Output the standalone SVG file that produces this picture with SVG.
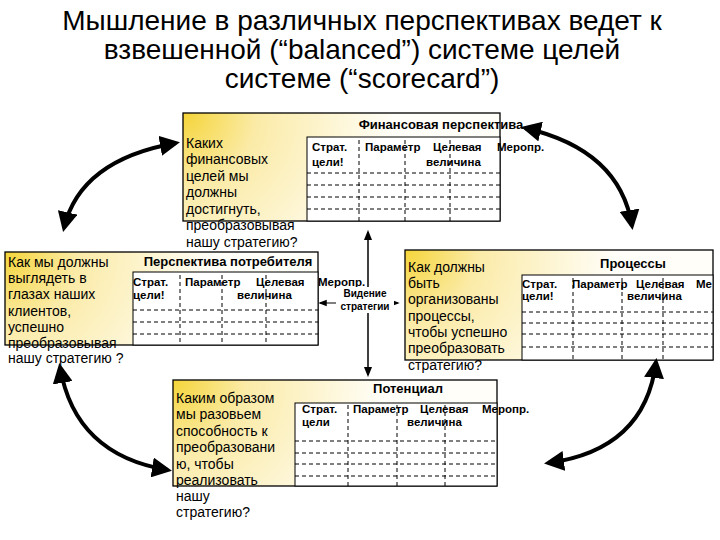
<svg xmlns="http://www.w3.org/2000/svg" width="720" height="540" viewBox="0 0 720 540">
<defs>
<marker id="ah" viewBox="0 0 10 10" refX="8" refY="5" markerWidth="5" markerHeight="5" orient="auto-start-reverse"><path d="M0,0 L10,5 L0,10 z" fill="#000"/></marker>
<marker id="as" viewBox="0 0 10 10" refX="8" refY="5" markerWidth="7" markerHeight="7" orient="auto-start-reverse"><path d="M0,1 L10,5 L0,9 z" fill="#000"/></marker>
<radialGradient id="gf" cx="184" cy="114" r="210" gradientUnits="userSpaceOnUse"><stop offset="0" stop-color="#f5d53a"/><stop offset="0.35" stop-color="#fbeba8"/><stop offset="1" stop-color="#fffef8"/></radialGradient>
<radialGradient id="gc" cx="5" cy="252" r="210" gradientUnits="userSpaceOnUse"><stop offset="0" stop-color="#f5d53a"/><stop offset="0.35" stop-color="#fbeba8"/><stop offset="1" stop-color="#fffef8"/></radialGradient>
<radialGradient id="gp" cx="405" cy="250" r="210" gradientUnits="userSpaceOnUse"><stop offset="0" stop-color="#f5d53a"/><stop offset="0.35" stop-color="#fbeba8"/><stop offset="1" stop-color="#fffef8"/></radialGradient>
<radialGradient id="gq" cx="173" cy="380" r="210" gradientUnits="userSpaceOnUse"><stop offset="0" stop-color="#f5d53a"/><stop offset="0.35" stop-color="#fbeba8"/><stop offset="1" stop-color="#fffef8"/></radialGradient>
</defs>
<style>
.t{font-family:"Liberation Sans",Arial,sans-serif;fill:#000}
.h{font-size:28px}
.q{font-size:14px}
.b{font-size:13px;font-weight:bold}
.s{font-size:11.5px;font-weight:bold}
.box{stroke:#000;stroke-width:1.3}
.tb{fill:#fff;stroke:#000;stroke-width:1}
.d{stroke:#000;stroke-width:1;stroke-dasharray:4 3}
.arc{fill:none;stroke:#000;stroke-width:4}
</style>
<g id="title" class="t h" text-anchor="middle">
<text x="362" y="30">Мышление в различных перспективах ведет к</text>
<text x="362" y="59">взвешенной (“balanced”) системе целей</text>
<text x="362" y="88">системе (“scorecard”)</text>
</g>
<g id="fin">
<rect class="box" x="183" y="113" width="317" height="108" fill="url(#gf)"/>
<text class="t b" x="441" y="129" text-anchor="middle">Финансовая перспектива</text>
<rect class="tb" x="307" y="137" width="193" height="84"/>
<line class="d" x1="359" y1="140" x2="359" y2="221"/><line class="d" x1="405" y1="140" x2="405" y2="221"/><line class="d" x1="450" y1="140" x2="450" y2="221"/>
<line class="d" x1="307" y1="173" x2="500" y2="173"/><line class="d" x1="307" y1="185" x2="500" y2="185"/><line class="d" x1="307" y1="197" x2="500" y2="197"/><line class="d" x1="307" y1="209" x2="500" y2="209"/>
<g class="t s"><text x="312" y="151">Страт.</text><text x="365" y="151">Параметр</text><text x="433" y="151">Целевая</text><text x="497" y="151">Меропр.</text>
<text x="312" y="166">цели!</text><text x="426" y="166">величина</text></g>
<g class="t q"><text x="186" y="148">Каких</text><text x="186" y="164">финансовых</text><text x="186" y="181">целей мы</text><text x="186" y="197">должны</text><text x="186" y="214">достигнуть,</text><text x="186" y="230">преобразовывая</text><text x="186" y="247">нашу стратегию?</text></g>
</g>
<g id="cust">
<rect class="box" x="5" y="252" width="313" height="93" fill="url(#gc)"/>
<text class="t b" x="228" y="266" text-anchor="middle">Перспектива потребителя</text>
<rect class="tb" x="133" y="272" width="185" height="73"/>
<line class="d" x1="180" y1="275" x2="180" y2="345"/><line class="d" x1="222" y1="275" x2="222" y2="345"/><line class="d" x1="266" y1="275" x2="266" y2="345"/>
<line class="d" x1="133" y1="310" x2="318" y2="310"/><line class="d" x1="133" y1="322" x2="318" y2="322"/><line class="d" x1="133" y1="334" x2="318" y2="334"/>
<g class="t s"><text x="133" y="286">Страт.</text><text x="185" y="286">Параметр</text><text x="256" y="286">Целевая</text><text x="318" y="286">Меропр.</text>
<text x="133" y="299">цели!</text><text x="237" y="299">величина</text></g>
<g class="t q"><text x="8" y="267">Как мы должны</text><text x="8" y="283">выглядеть в</text><text x="8" y="299">глазах наших</text><text x="8" y="316">клиентов,</text><text x="8" y="332">успешно</text><text x="8" y="348">преобразовывая</text><text x="8" y="363">нашу стратегию ?</text></g>
</g>
<g id="proc">
<rect class="box" x="405" y="250" width="308" height="110" fill="url(#gp)"/>
<text class="t b" x="633" y="268" text-anchor="middle">Процессы</text>
<rect class="tb" x="522" y="275" width="191" height="85"/>
<line class="d" x1="573" y1="278" x2="573" y2="360"/><line class="d" x1="622" y1="278" x2="622" y2="360"/><line class="d" x1="663" y1="278" x2="663" y2="360"/>
<line class="d" x1="522" y1="312" x2="713" y2="312"/><line class="d" x1="522" y1="323" x2="713" y2="323"/><line class="d" x1="522" y1="334" x2="713" y2="334"/><line class="d" x1="522" y1="347" x2="713" y2="347"/>
<g class="t s"><text x="522" y="288">Страт.</text><text x="572" y="288">Параметр</text><text x="636" y="288">Целевая</text><text x="696" y="288">Ме</text>
<text x="522" y="300">цели!</text><text x="627" y="300">величина</text></g>
<g class="t q"><text x="408" y="272">Как должны</text><text x="408" y="288">быть</text><text x="408" y="304">организованы</text><text x="408" y="321">процессы,</text><text x="408" y="337">чтобы успешно</text><text x="408" y="353">преобразовать</text><text x="408" y="370">стратегию?</text></g>
</g>
<g id="pot">
<rect class="box" x="173" y="380" width="324" height="106" fill="url(#gq)"/>
<text class="t b" x="408" y="393" text-anchor="middle">Потенциал</text>
<rect class="tb" x="295" y="403" width="202" height="83"/>
<line class="d" x1="348" y1="405" x2="348" y2="486"/><line class="d" x1="397" y1="405" x2="397" y2="486"/><line class="d" x1="445" y1="405" x2="445" y2="486"/>
<line class="d" x1="295" y1="441" x2="497" y2="441"/><line class="d" x1="295" y1="453" x2="497" y2="453"/><line class="d" x1="295" y1="464" x2="497" y2="464"/><line class="d" x1="295" y1="476" x2="497" y2="476"/>
<g class="t s"><text x="302" y="413">Страт.</text><text x="353" y="413">Параметр</text><text x="420" y="413">Целевая</text><text x="482" y="413">Меропр.</text>
<text x="302" y="426">цели</text><text x="407" y="426">величина</text></g>
<g class="t q"><text x="176" y="403">Каким образом</text><text x="176" y="419">мы разовьем</text><text x="176" y="436">способность к</text><text x="176" y="452">преобразовани</text><text x="176" y="469">ю, чтобы</text><text x="176" y="485">реализовать</text><text x="176" y="501">нашу</text><text x="176" y="517">стратегию?</text></g>
</g>
<g id="connectors">
<path class="arc" marker-start="url(#ah)" marker-end="url(#ah)" d="M176,143 Q80,160 64,228"/>
<path class="arc" marker-start="url(#ah)" marker-end="url(#ah)" d="M525,128 Q620,150 632,226"/>
<path class="arc" marker-start="url(#ah)" marker-end="url(#ah)" d="M60,367 Q75,455 168,470"/>
<path class="arc" marker-start="url(#ah)" marker-end="url(#ah)" d="M548,463 Q645,450 656,362"/>
<line x1="368" y1="232" x2="368" y2="375" stroke="#000" stroke-width="1.5" marker-start="url(#as)" marker-end="url(#as)"/>
<line x1="320" y1="303" x2="398" y2="303" stroke="#000" stroke-width="1.2" marker-start="url(#as)" marker-end="url(#as)"/>
<rect x="336" y="287" width="58" height="26" fill="#fff"/>
<text class="t s" x="365" y="297" text-anchor="middle" style="font-size:10px">Видение</text>
<text class="t s" x="365" y="310" text-anchor="middle" style="font-size:10px">стратегии</text>
</g>
</svg>
